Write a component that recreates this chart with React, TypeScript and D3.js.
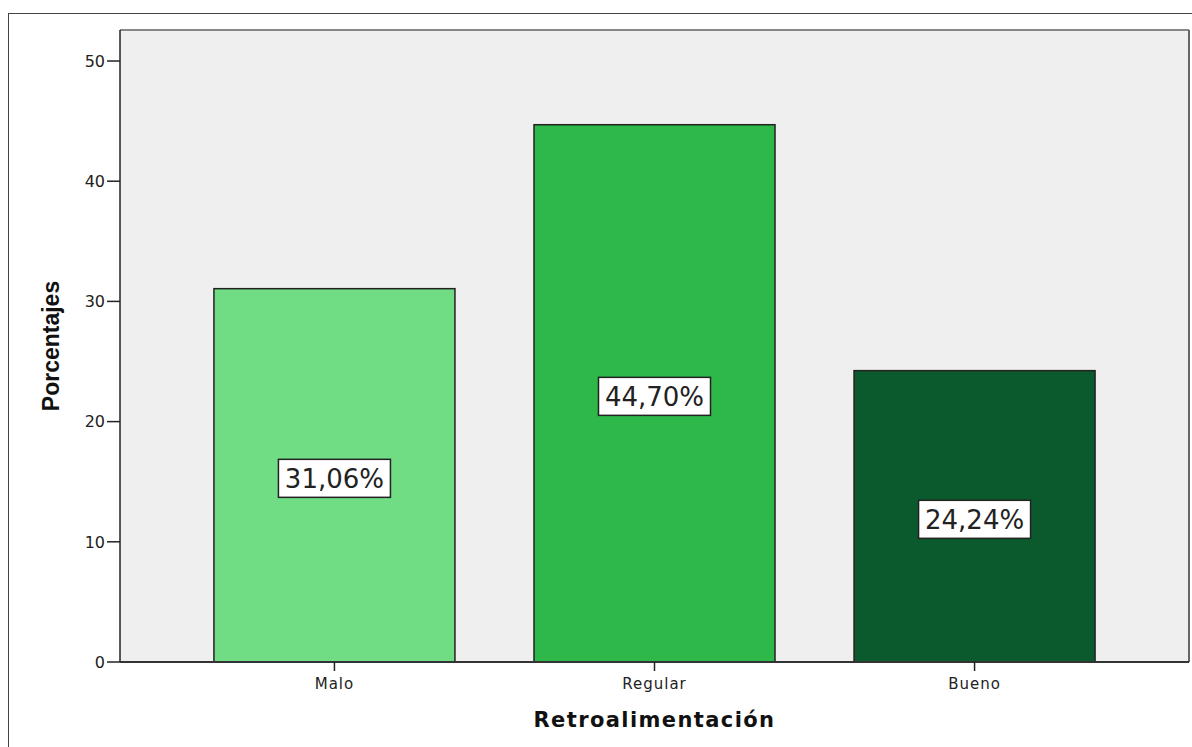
import React from "react";
import * as d3 from "d3";

// datos
const categorias = ["Malo", "Regular", "Bueno"];
const porcentajes = [31.06, 44.7, 24.24];
const etiquetas = ["31,06%", "44,70%", "24,24%"];
const colores = ["#70dc84", "#2eb84a", "#0b5a2e"];
const ticksY = [0, 10, 20, 30, 40, 50];

export default function App() {
  const width = 1192, height = 747;
  // área del gráfico
  const left = 120, right = 1189, top = 30, bottom = 662;

  const x = d3.scaleBand<string>().domain(categorias).range([left, right])
    .paddingInner(0.247).paddingOuter(0.2935);
  const y = d3.scaleLinear().domain([0, 52.58]).range([bottom, top]);

  const font = "'DejaVu Sans', Verdana, sans-serif";
  const arial = "Arial, 'Liberation Sans', sans-serif";

  return (
    <svg width={width} height={height} style={{ position: "absolute", left: 0, top: 0, background: "#fff" }}>
      {/* marco exterior */}
      <rect x={8.5} y={13.5} width={1200} height={760} fill="none" stroke="#444" strokeWidth={1} />
      {/* fondo del gráfico */}
      <rect x={left} y={top} width={right - left} height={bottom - top} fill="#efefef" />
      <line x1={left} x2={right} y1={top} y2={top} stroke="#888" strokeWidth={2} />
      <line x1={right} x2={right} y1={top} y2={bottom} stroke="#666" strokeWidth={2} />

      {/* barras */}
      {categorias.map((c, i) => (
        <rect key={c} x={x(c)} y={y(porcentajes[i])} width={x.bandwidth()}
          height={y(0) - y(porcentajes[i])} fill={colores[i]} stroke="#222" strokeWidth={1.5} />
      ))}

      {/* eje Y */}
      <line x1={left} x2={left} y1={top} y2={bottom} stroke="#222" strokeWidth={1.5} />
      {ticksY.map(t => (
        <g key={t}>
          <line x1={left - 13} x2={left} y1={y(t)} y2={y(t)} stroke="#222" strokeWidth={1.5} />
          <text x={left - 15} y={y(t)} dy="0.36em" textAnchor="end" fontFamily={font} fontSize={16} fill="#222">{t}</text>
        </g>
      ))}

      {/* eje X */}
      <line x1={left} x2={right} y1={bottom} y2={bottom} stroke="#333" strokeWidth={2} />
      {categorias.map(c => {
        const cx = (x(c) ?? 0) + x.bandwidth() / 2;
        return (
          <g key={c}>
            <line x1={cx} x2={cx} y1={bottom} y2={bottom + 9} stroke="#222" strokeWidth={1.5} />
            <text x={cx} y={689} textAnchor="middle" fontFamily={font} fontSize={15} letterSpacing={1}
              fill="#222">{c}</text>
          </g>
        );
      })}

      {/* etiquetas de valor */}
      {categorias.map((c, i) => {
        const cx = (x(c) ?? 0) + x.bandwidth() / 2;
        const cy = (y(porcentajes[i]) + y(0)) / 2 + 3;
        return (
          <g key={c}>
            <rect x={cx - 56} y={cy - 19} width={112} height={38} fill="#fff" stroke="#222" strokeWidth={1.5} />
            <text x={cx} y={cy} dy="0.36em" textAnchor="middle" fontFamily={font} fontSize={26} fill="#222">{etiquetas[i]}</text>
          </g>
        );
      })}

      {/* títulos */}
      <text x={(left + right) / 2} y={727} textAnchor="middle" fontFamily={font}
        fontWeight="bold" fontSize={21} letterSpacing={1.4} fill="#111">Retroalimentación</text>
      <text transform={`translate(59, ${(top + bottom) / 2}) rotate(-90)`} textAnchor="middle"
        fontFamily={arial} fontWeight="bold" fontSize={23} fill="#111">Porcentajes</text>
    </svg>
  );
}
